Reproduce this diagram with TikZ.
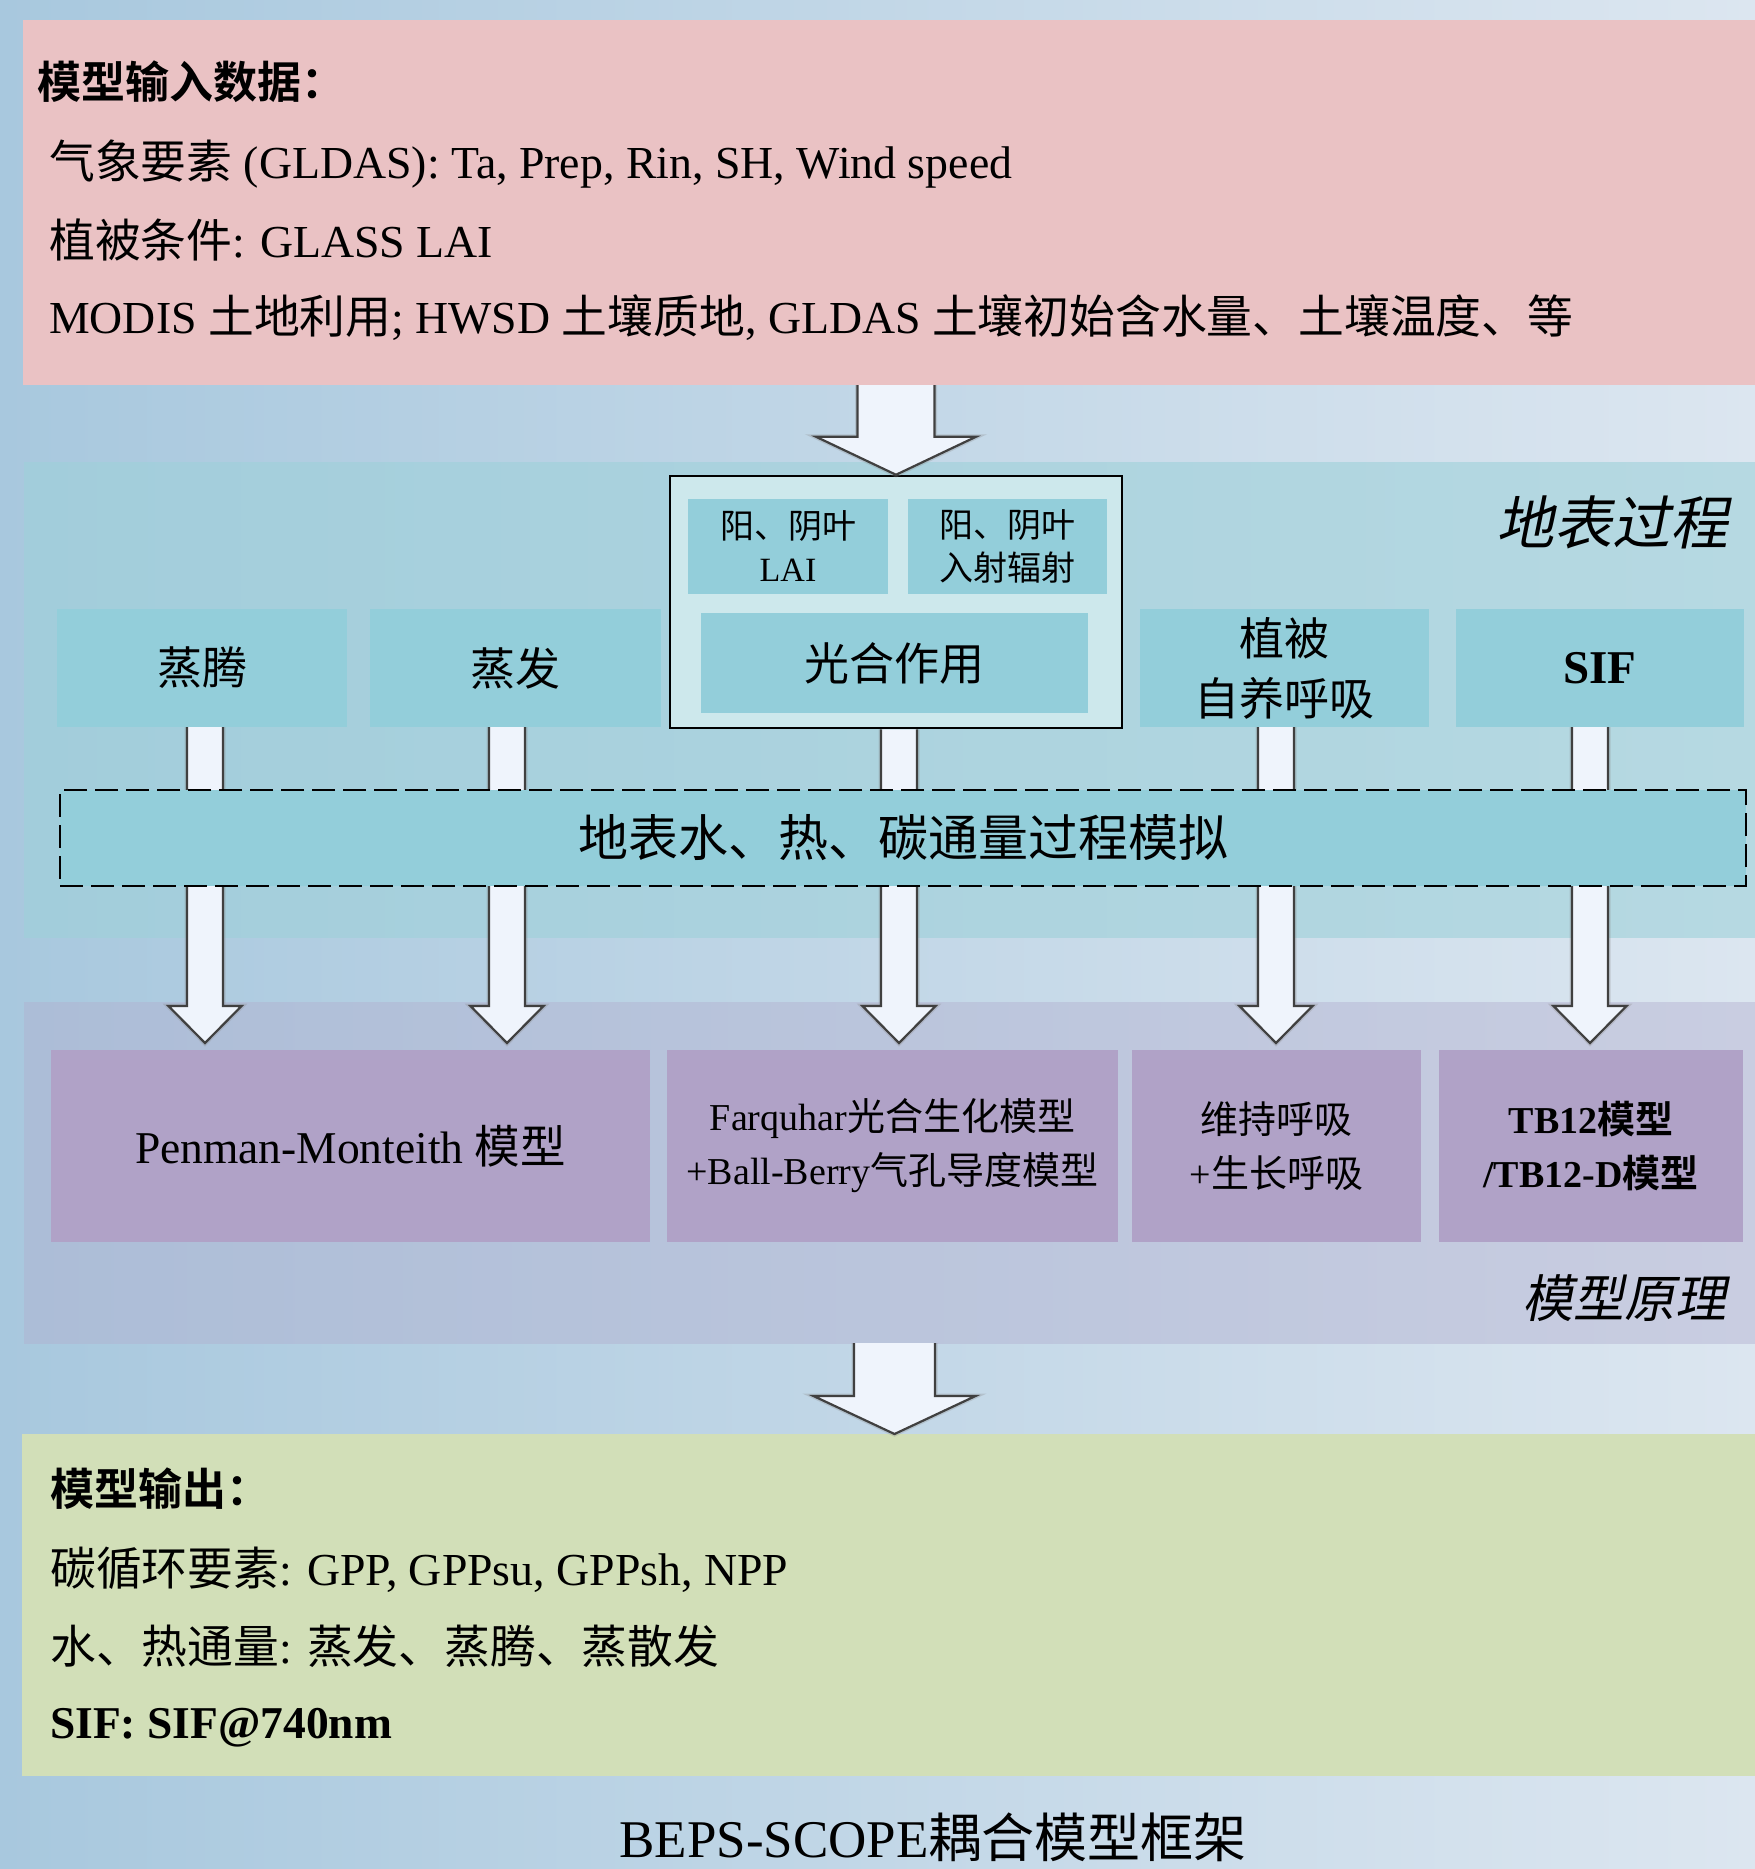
\documentclass[tikz,border=0pt]{standalone}
\usepackage{fontspec}
\setmainfont{Liberation Serif}
\newfontfamily\cjk[BoldFont={Noto Sans CJK SC Bold},AutoFakeSlant=0.2]{Noto Sans CJK SC}
\newcommand\zh[1]{{\cjk #1}}
\newcommand\fs[2]{\fontsize{#1}{#2}\selectfont}
\usetikzlibrary{calc}
\definecolor{bgL}{RGB}{168,200,222}
\definecolor{bgR}{RGB}{220,230,240}
\definecolor{pinkc}{RGB}{234,194,196}
\definecolor{blueL}{RGB}{162,205,219}
\definecolor{blueR}{RGB}{182,217,226}
\definecolor{purL}{RGB}{172,189,215}
\definecolor{purR}{RGB}{201,205,225}
\definecolor{greenc}{RGB}{210,223,184}
\definecolor{tealc}{RGB}{147,206,218}
\definecolor{paleteal}{RGB}{205,232,236}
\definecolor{purbox}{RGB}{176,162,199}
\definecolor{arrowfill}{RGB}{239,244,252}
\newcommand\blockarrow[5]{%
  \draw[blk] let \p1=#1, \p2=#2 in
    (\x1-#3,\y1) -- (\x1-#3,\y2+#5) -- (\x1-#4,\y2+#5) -- (\x1,\y2)
    -- (\x1+#4,\y2+#5) -- (\x1+#3,\y2+#5) -- (\x1+#3,\y1);}
\begin{document}
\begin{tikzpicture}[x=1pt,y=-1pt,
  region/.style={inner sep=0pt,outer sep=0pt},
  tealbox/.style={fill=tealc,inner sep=0pt,outer sep=0pt,align=center,font=\fs{45}{60}},
  purpbox/.style={fill=purbox,inner sep=0pt,outer sep=0pt,align=center,font=\fs{38}{54}},
  txt/.style={anchor=base west,inner sep=0pt,font=\fs{45.8}{54}},
  blk/.style={fill=arrowfill,draw=black!75,line width=2.2pt,line join=miter,
    preaction={draw=black!45,line width=5pt,opacity=0.3}},
  ]
\useasboundingbox (0,0) rectangle (1755,1869);
% background and regions
\node[region,minimum width=1755,minimum height=1869,left color=bgL,right color=bgR] (bg) at (877.5,934.5) {};
\node[region,fill=pinkc,minimum width=1732,minimum height=365] (inp) at (889,202.5) {};
\node[region,left color=blueL,right color=blueR,minimum width=1731,minimum height=475] (surf) at (889.5,699.5) {};
\node[region,left color=purL,right color=purR,minimum width=1731,minimum height=341] (mdl) at (889.5,1172.5) {};
\node[region,fill=greenc,minimum width=1733,minimum height=342] (outp) at (888.5,1605) {};

% input texts
\node[txt,font=\fs{44}{50}\bfseries] (in1) at (37,98) {\zh{模型输入数据：}};
\node[txt] (in2) at (49,178) {\zh{气象要素} (GLDAS): Ta, Prep, Rin, SH, Wind speed};
\node[txt] (in3) at (49,257) {\zh{植被条件}: GLASS LAI};
\node[txt] (in4) at (49,333) {MODIS \zh{土地利用}; HWSD \zh{土壤质地}, GLDAS \zh{土壤初始含水量、土壤温度、等}};

% surface process boxes
\node[fill=paleteal,draw=black,line width=2.5pt,inner sep=0pt,minimum width=452,minimum height=252] (psouter) at (896,602) {};
\node[tealbox,minimum width=290,minimum height=118] (zt) at (202,668) {\zh{蒸腾}};
\node[tealbox,minimum width=291,minimum height=118] (zf) at (515.5,668) {\zh{蒸发}};
\node[tealbox,minimum width=200,minimum height=95,font=\fs{34}{43}] (lai) at (788,546.5) {\zh{阳、阴叶}\\LAI};
\node[tealbox,minimum width=199,minimum height=95,font=\fs{34}{43}] (rad) at (1007.5,546.5) {\zh{阳、阴叶}\\\zh{入射辐射}};
\node[tealbox,minimum width=387,minimum height=100] (ps) at (894.5,663) {\zh{光合作用}};
\node[tealbox,minimum width=289,minimum height=118] (zb) at (1284.5,668) {\zh{植被}\\\zh{自养呼吸}};
\node[tealbox,minimum width=288,minimum height=118,font=\fs{47}{60}\bfseries] (sif) at (1600,668) {SIF};
\node[font=\fs{58}{60}\itshape,inner sep=0pt] (surflab) at (1612,522) {\zh{地表过程}};

% model boxes
\node[purpbox,minimum width=599,minimum height=192,font=\fs{45.5}{54}] (pm) at (350.5,1146) {Penman-Monteith \zh{模型}};
\node[purpbox,minimum width=451,minimum height=192] (fq) at (892.5,1146) {Farquhar\zh{光合生化模型}\\+Ball-Berry\zh{气孔导度模型}};
\node[purpbox,minimum width=289,minimum height=192] (wc) at (1276.5,1146) {\zh{维持呼吸}\\+\zh{生长呼吸}};
\node[purpbox,minimum width=304,minimum height=192,font=\fs{38}{54}\bfseries] (tb) at (1591,1146) {TB12\zh{模型}\\/TB12-D\zh{模型}};
\node[font=\fs{51}{56}\itshape,inner sep=0pt] (mdllab) at (1624,1298) {\zh{模型原理}};

% block arrows
\blockarrow{(inp.south -| psouter.north)}{([xshift=1pt]psouter.north)}{38.5}{80}{38}
\blockarrow{([xshift=3pt]zt.south)}{([yshift=7pt]pm.north)}{18}{36.5}{37}
\blockarrow{([xshift=-8.5pt]zf.south)}{([yshift=7pt]pm.north)}{18}{36.5}{37}
\blockarrow{([xshift=3pt]psouter.south)}{([yshift=7pt]fq.north)}{18}{36.5}{37}
\blockarrow{([xshift=-8.5pt]zb.south)}{([yshift=7pt]wc.north)}{18}{36.5}{37}
\blockarrow{([xshift=-10pt]sif.south)}{([yshift=7pt]tb.north)}{18}{36.5}{37}
\blockarrow{([xshift=2pt]mdl.south -| fq.north)}{(outp.north)}{40.5}{81}{38}

% flux simulation (dashed)
\node[fill=tealc,draw=black,line width=2.6pt,dash pattern=on 23pt off 8pt,inner sep=0pt,
  minimum width=1686,minimum height=96,font=\fs{50}{56}] (flux) at (903,838) {\zh{地表水、热、碳通量过程模拟}};

% output texts
\node[txt,font=\fs{44}{50}\bfseries] (out1) at (50,1505) {\zh{模型输出：}};
\node[txt] (out2) at (50,1585) {\zh{碳循环要素}: GPP, GPPsu, GPPsh, NPP};
\node[txt] (out3) at (50,1663) {\zh{水、热通量}: \zh{蒸发、蒸腾、蒸散发}};
\node[txt,font=\fs{45.5}{54}\bfseries] (out4) at (50,1738) {SIF: SIF@740nm};

% caption
\node[anchor=base,inner sep=0pt,font=\fs{53}{60}] (cap) at (933,1857) {BEPS-SCOPE\zh{耦合模型框架}};
\end{tikzpicture}
\end{document}
